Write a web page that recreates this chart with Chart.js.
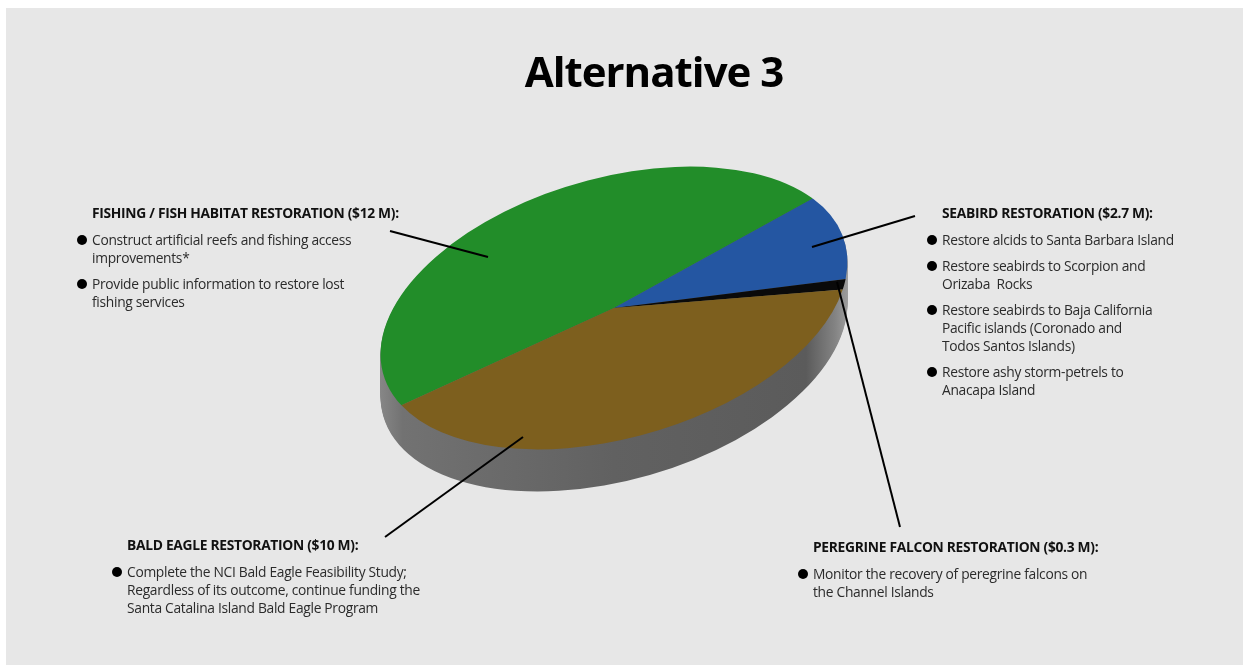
<!DOCTYPE html>
<html lang="en">
<head>
<meta charset="UTF-8">
<title>Alternative 3</title>
<script src="https://cdn.jsdelivr.net/npm/chart.js"></script>
<style>
    body {
        margin: 0;
        width: 1243px;
        height: 665px;
        overflow: hidden;
        position: relative;
        background: #fff;
        font-family: "Open Sans", Arial, sans-serif;
    }
    .panel {
        position: absolute;
        left: 6px; top: 8px; right: 0; bottom: 0;
        background: #e7e7e7;
    }
    .chart-box {
        position: absolute;
        left: 0; top: 0;
        width: 1243px; height: 665px;
    }
    h1 {
        position: absolute;
        left: 454px; width: 400px; top: 50px;
        margin: 0;
        text-align: center;
        font-size: 42px; line-height: 42px;
        font-weight: 700;
        color: #000;
        letter-spacing: -1px;
    }
    .note {
        position: absolute;
        color: #2b2b2b;
        font-size: 13.8px;
        line-height: 18px;
        letter-spacing: -0.3px;
    }
    .note .head {
        font-weight: 700;
        color: #111;
        margin-bottom: 9px;
        white-space: nowrap;
    }
    .note ul { list-style: none; margin: 0; padding: 0; }
    .note li { position: relative; margin-top: 8px; white-space: nowrap; }
    .note li:first-child { margin-top: 0; }
    .note li::before {
        content: "";
        position: absolute;
        left: -15px; top: 4px;
        width: 10px; height: 10px;
        border-radius: 50%;
        background: #000;
    }
</style>
</head>
<body>
<div class="panel"></div>
<div class="chart-box"><canvas id="pieChart"></canvas></div>
<h1>Alternative 3</h1>
<div id="notes"></div>

<script>
    // data
    const categories = ['FISHING / FISH HABITAT RESTORATION', 'SEABIRD RESTORATION', 'PEREGRINE FALCON RESTORATION', 'BALD EAGLE RESTORATION'];
    const costs = [12, 2.7, 0.3, 10];   // $ M
    const sliceColors = ['#228d29', '#2456a2', '#0a0a0a', '#7d5f1e'];
    const bullets = [
        ['Construct artificial reefs and fishing access<br>improvements*', 'Provide public information to restore lost<br>fishing services'],
        ['Restore alcids to Santa Barbara Island', 'Restore seabirds to Scorpion and<br>Orizaba&nbsp; Rocks', 'Restore seabirds to Baja California<br>Pacific islands (Coronado and<br>Todos Santos Islands)', 'Restore ashy storm-petrels to<br>Anacapa Island'],
        ['Monitor the recovery of peregrine falcons on<br>the Channel Islands'],
        ['Complete the NCI Bald Eagle Feasibility Study;<br>Regardless of its outcome, continue funding the<br>Santa Catalina Island Bald Eagle Program']
    ];

    // layout of the annotation blocks (text left, block top)
    const notePos = [[92, 204], [942, 204], [813, 538], [127, 536]];
    // leader lines: [x1, y1, x2, y2]
    const leaders = [[488, 257, 390, 231], [812, 247, 915, 216], [837, 282, 900, 527], [523, 437, 385, 537]];

    const TILT = -16 * Math.PI / 180;
    const SQUASH = 130 / 240;
    const DEPTH = 42;

    const notes = document.getElementById('notes');
    categories.forEach((cat, i) => {
        const div = document.createElement('div');
        div.className = 'note';
        div.style.left = notePos[i][0] + 'px';
        div.style.top = notePos[i][1] + 'px';
        div.innerHTML = `<div class="head">${cat} ($${costs[i]} M):</div><ul>` +
            bullets[i].map(b => `<li>${b}</li>`).join('') + '</ul>';
        notes.appendChild(div);
    });

    function applyTilt(ctx, cx, cy) {
        ctx.translate(cx, cy);
        ctx.rotate(TILT);
        ctx.scale(1, SQUASH);
        ctx.translate(-cx, -cy);
    }

    const tiltPlugin = {
        id: 'tilt',
        beforeDatasetsDraw(chart) {
            const ctx = chart.ctx;
            const arc = chart.getDatasetMeta(0).data[0];
            const cx = arc.x, cy = arc.y, r = arc.outerRadius;

            const side = ctx.createLinearGradient(cx - r, 0, cx + r, 0);
            side.addColorStop(0, '#8c8c8c');
            side.addColorStop(0.06, '#727272');
            side.addColorStop(0.5, '#616161');
            side.addColorStop(0.9, '#5b5b5b');
            side.addColorStop(0.96, '#838383');
            side.addColorStop(1, '#a8a8a8');

            for (let i = DEPTH; i >= 1; i--) {
                ctx.save();
                ctx.translate(0, i);
                applyTilt(ctx, cx, cy);
                ctx.beginPath();
                ctx.arc(cx, cy, r, 0, Math.PI * 2);
                ctx.restore();
                ctx.fillStyle = side;
                ctx.fill();
            }
            ctx.save();
            applyTilt(ctx, cx, cy);
        },
        afterDatasetsDraw(chart) {
            const ctx = chart.ctx;
            ctx.restore();
            ctx.save();
            ctx.strokeStyle = '#000';
            ctx.lineWidth = 2;
            leaders.forEach(l => {
                ctx.beginPath();
                ctx.moveTo(l[0], l[1]);
                ctx.lineTo(l[2], l[3]);
                ctx.stroke();
            });
            ctx.restore();
        }
    };

    new Chart(document.getElementById('pieChart'), {
        type: 'pie',
        data: {
            labels: categories,
            datasets: [{
                data: costs,
                backgroundColor: sliceColors,
                borderWidth: 0,
                clip: false
            }]
        },
        options: {
            responsive: true,
            maintainAspectRatio: false,
            animation: false,
            events: [],
            rotation: -105.6,
            layout: { padding: { left: 374, right: 389, top: 68, bottom: 117 } },
            plugins: {
                legend: { display: false },
                tooltip: { enabled: false }
            }
        },
        plugins: [tiltPlugin]
    });
</script>
</body>
</html>
